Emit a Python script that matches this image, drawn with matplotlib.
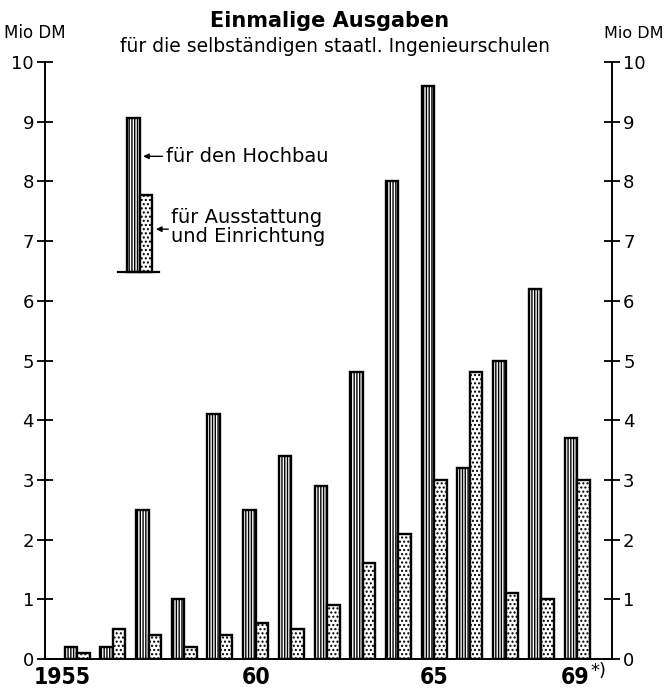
import matplotlib
matplotlib.use("Agg")
import matplotlib.pyplot as plt
import numpy as np

# Einmalige Ausgaben (Mio DM) der selbständigen staatl. Ingenieurschulen
years = [1955, 1956, 1957, 1958, 1959, 1960, 1961, 1962,
         1963, 1964, 1965, 1966, 1967, 1968, 1969]
hochbau = [0.2, 0.2, 2.5, 1.0, 4.1, 2.5, 3.4, 2.9,
           4.8, 8.0, 9.6, 3.2, 5.0, 6.2, 3.7]
ausstattung = [0.1, 0.5, 0.4, 0.2, 0.4, 0.6, 0.5, 0.9,
               1.6, 2.1, 3.0, 4.8, 1.1, 1.0, 3.0]
year_labels = {1955: "1955", 1960: "60", 1965: "65", 1969: "69"}
y_ticks = list(range(0, 11))

# key sample bars (legend drawn inside the plot)
key_base = 6.48
key_hochbau = 9.06
key_ausstattung = 7.77

plt.rcParams["hatch.linewidth"] = 1.0
fig = plt.figure(figsize=(6.65, 6.93), dpi=100)
ax = fig.add_axes([45 / 665, 1 - 659 / 693, (612 - 45) / 665, (659 - 62) / 693])

bw = 0.35
x = np.array(years, dtype=float)
ax.bar(x - bw / 2, hochbau, width=bw, facecolor="white", edgecolor="black",
       linewidth=1.7, hatch="||||||", zorder=3)
ax.bar(x + bw / 2, ausstattung, width=bw, facecolor="white", edgecolor="black",
       linewidth=1.7, hatch="....", zorder=3)

ax.set_xlim(1954.1, 1969.98)
ax.set_ylim(0, 10)

# axes: left and right spines with crossing ticks, baseline at zero
ax.spines["top"].set_visible(False)
for s in ["left", "right", "bottom"]:
    ax.spines[s].set_linewidth(1.4)
ax.set_yticks(y_ticks)
ax.tick_params(axis="y", which="both", direction="inout", length=12, width=1.3,
               labelsize=13, left=True, right=True, labelleft=True,
               labelright=True, pad=2)
ax.set_xticks([])

# year labels below the baseline
offsets = {1955: -0.42, 1960: 0.0, 1965: 0.0, 1969: -0.05}
for yr, lab in year_labels.items():
    ax.text(yr + offsets[yr], -0.12, lab, ha="center", va="top",
            fontsize=16.5, fontweight="bold", fontstretch="condensed")
ax.text(1969.38, -0.05, "*)", ha="left", va="top", fontsize=13)

# key
kx = 1956.75
ax.bar(kx - bw / 2, key_hochbau - key_base, bottom=key_base, width=bw,
       facecolor="white", edgecolor="black", linewidth=1.7, hatch="||||||", zorder=3)
ax.bar(kx + bw / 2, key_ausstattung - key_base, bottom=key_base, width=bw,
       facecolor="white", edgecolor="black", linewidth=1.7, hatch="....", zorder=3)
ax.plot([kx - 0.6, kx + 0.55], [key_base, key_base], color="black", lw=1.6, zorder=4)
ax.annotate("", xy=(kx + 0.02, 8.42), xytext=(kx + 0.72, 8.42),
            arrowprops=dict(arrowstyle="-|>", color="black", lw=1.0,
                            mutation_scale=8))
ax.text(kx + 0.74, 8.42, "für den Hochbau", ha="left", va="center", fontsize=14)
ax.annotate("", xy=(kx + 0.38, 7.2), xytext=(kx + 0.88, 7.2),
            arrowprops=dict(arrowstyle="-|>", color="black", lw=1.0,
                            mutation_scale=8))
ax.text(kx + 0.88, 7.24, "für Ausstattung\nund Einrichtung", ha="left",
        va="center", fontsize=14, linespacing=1.0)

# titles and unit labels
fig.text(330 / 665, 1 - 21 / 693, "Einmalige Ausgaben", ha="center", va="center",
         fontsize=15, fontweight="bold")
fig.text(335 / 665, 1 - 47 / 693, "für die selbständigen staatl. Ingenieurschulen",
         ha="center", va="center", fontsize=13.5)
fig.text(35 / 665, 1 - 33 / 693, "Mio DM", ha="center", va="center", fontsize=12)
fig.text(663 / 665, 1 - 33 / 693, "Mio DM", ha="right", va="center", fontsize=11.5)

fig.savefig("out.png", dpi=100)
